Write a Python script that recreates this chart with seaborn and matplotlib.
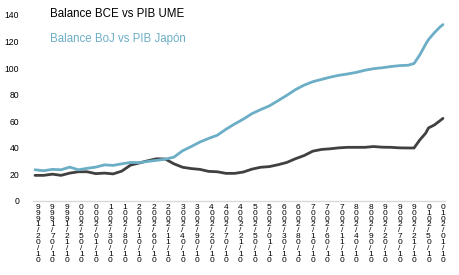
import matplotlib
matplotlib.use("Agg")
import matplotlib.pyplot as plt
import seaborn as sns
import pandas as pd

# month index (0 = Jan 1999), values in % of GDP
months = [0, 3, 6, 9, 12, 15, 18, 21, 24, 27, 30, 33, 36, 39, 42, 45, 48, 51, 54, 57,
          60, 63, 66, 69, 72, 75, 78, 81, 84, 87, 90, 93, 96, 99, 102, 105, 108, 111,
          114, 117, 120, 123, 126, 129, 131, 133, 135, 136, 138, 140, 141]

bce = [19.3, 19.3, 20.2, 19.3, 21.0, 22.0, 22.0, 20.6, 21.0, 20.4, 22.5, 27.0, 28.6,
       30.3, 31.8, 31.6, 28.0, 25.4, 24.4, 23.8, 22.3, 22.0, 20.8, 20.8, 21.8, 24.0,
       25.4, 25.9, 27.3, 29.0, 31.8, 34.2, 37.5, 38.8, 39.3, 40.0, 40.4, 40.4, 40.4,
       41.0, 40.5, 40.4, 40.0, 39.9, 39.9, 46.0, 51.0, 55.0, 57.2, 60.5, 62.2]

boj = [23.5, 22.8, 23.8, 23.5, 25.5, 23.5, 24.6, 25.5, 27.2, 26.8, 28.0, 29.0, 28.9,
       29.8, 30.6, 31.5, 33.0, 37.8, 41.0, 44.4, 47.1, 49.5, 54.0, 58.0, 61.6, 65.8,
       68.8, 71.6, 75.5, 79.5, 83.8, 87.2, 89.8, 91.5, 93.2, 94.6, 95.6, 96.8, 98.4,
       99.6, 100.3, 101.2, 101.9, 102.2, 103.5, 110.0, 118.0, 121.5, 126.6, 131.0, 132.8]

series_names = ["Balance BCE vs PIB UME", "Balance BoJ vs PIB Japón"]
series_colors = ["#404040", "#6BAEC6"]

tick_months = list(range(1, 142, 5))
tick_dates = ["01/02/1999", "01/07/1999", "01/12/1999", "01/05/2000", "01/10/2000",
              "01/03/2001", "01/08/2001", "01/01/2002", "01/06/2002", "01/11/2002",
              "01/04/2003", "01/09/2003", "01/02/2004", "01/07/2004", "01/12/2004",
              "01/05/2005", "01/10/2005", "01/03/2006", "01/08/2006", "01/01/2007",
              "01/06/2007", "01/11/2007", "01/04/2008", "01/09/2008", "01/02/2009",
              "01/07/2009", "01/12/2009", "01/05/2010", "01/10/2010"]

y_ticks = [0, 20, 40, 60, 80, 100, 120, 140]

df = pd.concat([
    pd.DataFrame({"mes": months, "valor": bce, "serie": series_names[0]}),
    pd.DataFrame({"mes": months, "valor": boj, "serie": series_names[1]}),
])

sns.set_style("white")
plt.rcParams["font.family"] = ["Liberation Sans", "DejaVu Sans"]

fig = plt.figure(figsize=(4.59, 2.75), dpi=100)
ax = fig.add_axes([33 / 459, 1 - 201 / 275, (445 - 33) / 459, (201 - 15) / 275])

sns.lineplot(data=df, x="mes", y="valor", hue="serie", palette=series_colors,
             hue_order=series_names, linewidth=2.0, legend=False, ax=ax)

ax.set_xlim(-0.7, 141.7)
ax.set_ylim(0, 140)
ax.set_yticks(y_ticks)
ax.set_yticklabels([str(v) for v in y_ticks], fontsize=6.2)
ax.set_xticks(tick_months)
stacked = ["\n".join(reversed(list(d))) for d in tick_dates]
ax.set_xticklabels(stacked, fontsize=6, linespacing=0.78, va="top")
ax.tick_params(axis="both", length=0, colors="black")
ax.tick_params(axis="y", pad=10)
ax.tick_params(axis="x", pad=2)
ax.set_xlabel("")
ax.set_ylabel("")
for s in ["top", "right", "left"]:
    ax.spines[s].set_visible(False)
ax.spines["bottom"].set_color("#d9d9d9")
ax.spines["bottom"].set_linewidth(1.0)

fig.text(50 / 459, 1 - 17.3 / 275, series_names[0], color="black", fontsize=8.3,
         va="baseline", ha="left")
fig.text(50 / 459, 1 - 41.7 / 275, series_names[1], color=series_colors[1], fontsize=8.3,
         va="baseline", ha="left")

fig.savefig("out.png", dpi=100)
